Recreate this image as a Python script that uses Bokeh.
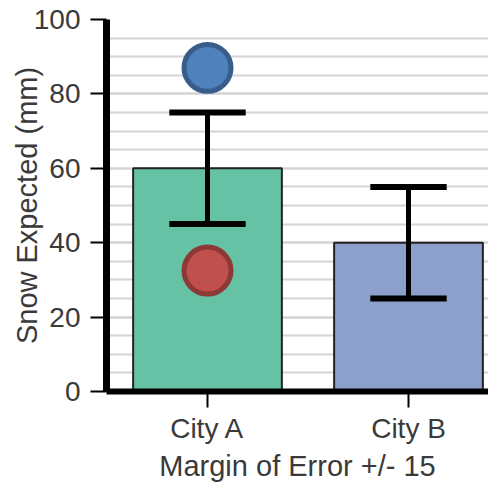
from bokeh.plotting import figure
from bokeh.models import Range1d, SingleIntervalTicker, FixedTicker, ColumnDataSource
from bokeh.embed import file_html
from bokeh.resources import INLINE

cities = ["City A", "City B"]
snow = [60, 40]
margin = [15, 15]
bar_colors = ["#66c2a5", "#8da0cb"]
marker_city = ["City A", "City A"]
marker_values = [87, 32.5]
marker_fill = ["#4f81bd", "#c0504d"]
marker_line = ["#385d8a", "#8c3836"]

pos = list(range(len(cities)))
src = ColumnDataSource(dict(
    x=pos, top=snow, color=bar_colors,
    lo=[s - m for s, m in zip(snow, margin)],
    hi=[s + m for s, m in zip(snow, margin)],
))
mpos = [cities.index(c) for c in marker_city]
msrc = ColumnDataSource(dict(x=mpos, y=marker_values, fill=marker_fill, line=marker_line))

p = figure(width=488, height=484, output_backend="svg", toolbar_location=None,
           x_range=Range1d(-0.5025, 1.398), y_range=Range1d(0, 100),
           min_border_left=106, min_border_right=0, min_border_top=19, min_border_bottom=86)
p.outline_line_color = None
p.background_fill_color = "white"

p.vbar(x="x", top="top", bottom=0, width=0.74, fill_color="color",
       line_color="#222222", line_width=2, source=src)
p.segment(x0="x", x1="x", y0="lo", y1="hi", line_color="black", line_width=5, source=src)
p.rect(x="x", y="hi", width=0.38, height=6, height_units="screen",
       fill_color="black", line_color=None, source=src)
p.rect(x="x", y="lo", width=0.38, height=6, height_units="screen",
       fill_color="black", line_color=None, source=src)
p.scatter(x="x", y="y", size=47, fill_color="fill", line_color="line",
          line_width=5, source=msrc)

font = "Liberation Sans"
txt = "#3a3a3a"

# y axis
p.yaxis.ticker = SingleIntervalTicker(interval=20, num_minor_ticks=4)
p.yaxis.axis_label = "Snow Expected (mm)"
p.yaxis.axis_line_width = 7
p.yaxis.axis_line_color = "black"
p.yaxis.major_tick_out = 16
p.yaxis.major_tick_in = 0
p.yaxis.major_tick_line_width = 2
p.yaxis.minor_tick_out = 0
p.yaxis.minor_tick_in = 0
p.yaxis.major_label_standoff = 10
p.yaxis.axis_label_standoff = -12

# x axis
p.xaxis.ticker = FixedTicker(ticks=pos)
p.xaxis.major_label_overrides = {i: c for i, c in enumerate(cities)}
p.xaxis.axis_label = "Margin of Error +/- 15"
p.xaxis.axis_line_width = 6
p.xaxis.axis_line_color = "black"
p.xaxis.major_tick_out = 16
p.xaxis.major_tick_in = 0
p.xaxis.major_tick_line_width = 2
p.xaxis.minor_tick_out = 0
p.xaxis.minor_tick_in = 0
p.xaxis.major_label_standoff = 5
p.xaxis.axis_label_standoff = 3

for ax in (p.xaxis, p.yaxis):
    ax.major_label_text_font = font
    ax.major_label_text_font_size = "28px"
    ax.major_label_text_color = txt
    ax.axis_label_text_font = font
    ax.axis_label_text_font_size = "29px"
    ax.axis_label_text_font_style = "normal"
    ax.axis_label_text_color = txt

p.xgrid.grid_line_color = None
p.ygrid.grid_line_color = "#d4d4d4"
p.ygrid.grid_line_width = 2
p.ygrid.minor_grid_line_color = "#d4d4d4"
p.ygrid.minor_grid_line_width = 2

open("out.html", "w").write(file_html(p, INLINE))
